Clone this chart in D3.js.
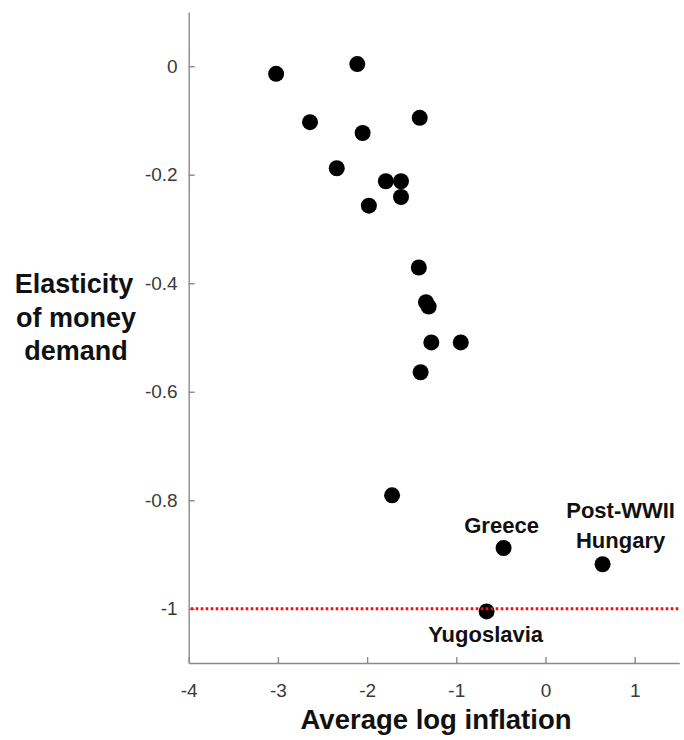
<!DOCTYPE html>
<html>
<head>
<meta charset="utf-8">
<script src="https://cdn.jsdelivr.net/npm/d3@7"></script>
<style>
  body { margin: 0; background: #fff; }
  svg { font-family: "Liberation Sans", Arial, sans-serif; }
  .tick text { font-size: 19px; fill: #3a3a3a; }
  .axis path, .axis line { stroke: #8a8a8a; stroke-width: 1.4; }
  .lbl { font-weight: bold; fill: #111; }
</style>
</head>
<body>
<svg width="684" height="740"></svg>
<script>
// average log inflation vs elasticity of money demand
var inflation  = [-3.02, -2.11, -2.64, -1.41, -2.05, -2.34, -1.79, -1.62, -1.62, -1.98,
                  -1.42, -1.34, -1.31, -1.28, -0.95, -1.40, -1.72, -0.47, 0.64, -0.66];
var elasticity = [-0.014, 0.004, -0.103, -0.095, -0.123, -0.188, -0.212, -0.212, -0.241, -0.257,
                  -0.371, -0.435, -0.443, -0.509, -0.509, -0.564, -0.791, -0.888, -0.918, -1.005];
var names = ["", "", "", "", "", "", "", "", "", "",
             "", "", "", "", "", "", "", "Greece", "Post-WWII|Hungary", "Yugoslavia"];

var xTicks = [-4, -3, -2, -1, 0, 1];
var yTicks = [0, -0.2, -0.4, -0.6, -0.8, -1];
var refLevel = -1;

var svg = d3.select('svg');

var xScale = d3.scaleLinear().domain([-4, 1.5]).range([188.7, 679.3]);
var yScale = d3.scaleLinear().domain([-1.1, 0.1]).range([663, 12]);

// axes (ticks point inward, no box)
svg.append('g').attr('class', 'axis')
    .attr('transform', 'translate(0,663)')
    .call(d3.axisBottom(xScale).tickValues(xTicks).tickSizeInner(-6).tickSizeOuter(0)
        .tickPadding(21).tickFormat(function(d) { return String(d); }));

svg.append('g').attr('class', 'axis')
    .attr('transform', 'translate(188.7,0)')
    .call(d3.axisLeft(yScale).tickValues(yTicks).tickSizeInner(-6).tickSizeOuter(0)
        .tickPadding(11).tickFormat(function(d) { return String(d); }));

var pts = inflation.map(function(x, i) { return {x: x, y: elasticity[i], name: names[i]}; });

svg.append('g').selectAll('circle')
    .data(pts)
    .enter()
    .append('circle')
    .attr('cx', function(d) { return xScale(d.x); })
    .attr('cy', function(d) { return yScale(d.y); })
    .attr('r', 8)
    .style('fill', '#000');

// unit elasticity reference line
svg.append('line')
    .attr('x1', xScale(-4) + 2).attr('x2', xScale(1.5))
    .attr('y1', yScale(refLevel)).attr('y2', yScale(refLevel))
    .style('stroke', '#f01010')
    .style('stroke-width', 3)
    .style('stroke-dasharray', '2.6,2.4');

// country labels
var labelled = pts.filter(function(d) { return d.name != ''; });
labelled.forEach(function(d) {
    var lines = d.name.split('|');
    var cx = xScale(d.x), cy = yScale(d.y);
    var t = svg.append('text').attr('class', 'lbl')
        .style('font-size', '22px')
        .attr('text-anchor', 'middle');
    if (d.y <= refLevel) {
        // below the point
        t.attr('x', cx - 1).attr('y', cy + 31).text(lines[0]);
    } else if (lines.length > 1) {
        t.append('tspan').attr('x', cx + 18).attr('y', cy - 46).text(lines[0]);
        t.append('tspan').attr('x', cx + 18).attr('y', cy - 16).text(lines[1]);
    } else {
        t.attr('x', cx - 2).attr('y', cy - 15).text(lines[0]);
    }
});

// axis titles
svg.append('text').attr('class', 'lbl')
    .attr('x', 436).attr('y', 729)
    .attr('text-anchor', 'middle')
    .style('font-size', '27.5px')
    .text('Average log inflation');

var ylab = svg.append('text').attr('class', 'lbl')
    .attr('text-anchor', 'middle')
    .style('font-size', '27px');
ylab.append('tspan').attr('x', 74).attr('y', 293).text('Elasticity');
ylab.append('tspan').attr('x', 76).attr('y', 327).text('of money');
ylab.append('tspan').attr('x', 76).attr('y', 360).text('demand');
</script>
</body>
</html>
